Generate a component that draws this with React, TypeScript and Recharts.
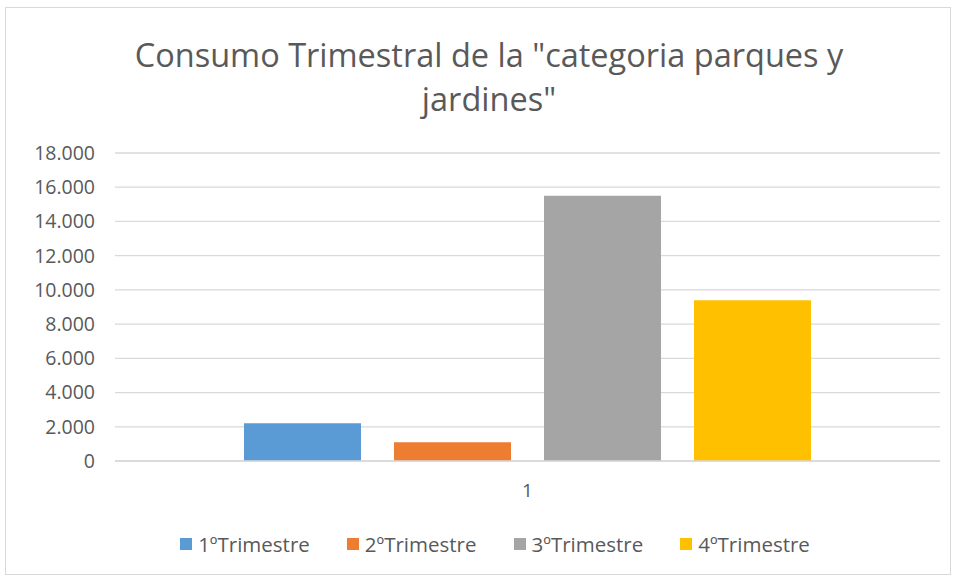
import React from 'react';
import { BarChart, Bar, XAxis, YAxis, CartesianGrid } from 'recharts';

const categories = ['1'];
const seriesNames = ['1ºTrimestre', '2ºTrimestre', '3ºTrimestre', '4ºTrimestre'];
const seriesValues = [2200, 1100, 15500, 9400];
const seriesColors = ['#5b9bd5', '#ed7d31', '#a5a5a5', '#ffc000'];
const yTicks = [0, 2000, 4000, 6000, 8000, 10000, 12000, 14000, 16000, 18000];

const FONT = '"Open Sans", "Noto Sans", sans-serif';
const TEXT = '#595959';

const rows = categories.map((c) => {
  const row: Record<string, string | number> = { name: c };
  seriesNames.forEach((s, i) => {
    row[s] = seriesValues[i];
  });
  return row;
});

const fmt = (v: number) => v.toLocaleString('de-DE');

function LegendRow() {
  return (
    <div
      style={{
        position: 'absolute',
        top: 530,
        left: 32,
        width: 926,
        display: 'flex',
        justifyContent: 'center',
        gap: 37,
        fontFamily: FONT,
        fontSize: 20.5,
        color: TEXT,
      }}
    >
      {seriesNames.map((s, i) => (
        <div key={s} style={{ display: 'flex', alignItems: 'center' }}>
          <span style={{ width: 12, height: 12, background: seriesColors[i], marginRight: 6 }} />
          <span>{s}</span>
        </div>
      ))}
    </div>
  );
}

export default function App() {
  return (
    <div style={{ position: 'absolute', left: 0, top: 0, width: 958, height: 577, background: '#fff' }}>
      <div
        style={{
          position: 'absolute',
          left: 5,
          top: 7,
          width: 946,
          height: 568,
          border: '1px solid #d9d9d9',
          boxSizing: 'border-box',
        }}
      />
      <div
        style={{
          position: 'absolute',
          top: 33,
          left: 20,
          width: 938,
          textAlign: 'center',
          fontFamily: FONT,
          fontSize: 32.5,
          lineHeight: '44px',
          color: TEXT,
        }}
      >
        Consumo Trimestral de la "categoria parques y
        <br />
        jardines"
      </div>
      <div style={{ position: 'absolute', left: 0, top: 0 }}>
        <BarChart
          width={958}
          height={577}
          data={rows}
          margin={{ top: 153, right: 18, bottom: 86, left: 0 }}
          barGap={33}
        >
          <CartesianGrid vertical={false} stroke="#d9d9d9" strokeWidth={1.3} />
          <XAxis
            dataKey="name"
            height={30}
            axisLine={{ stroke: '#d9d9d9', strokeWidth: 1.3 }}
            tickLine={false}
            tickSize={0}
            tickMargin={23}
            tick={{ fill: TEXT, fontSize: 19, fontFamily: FONT }}
          />
          <YAxis
            width={115}
            domain={[0, 18000]}
            ticks={yTicks}
            tickFormatter={fmt}
            axisLine={false}
            tickLine={false}
            tickSize={0}
            tickMargin={20}
            tick={{ fill: TEXT, fontSize: 19.5, fontFamily: FONT }}
          />
          {seriesNames.map((s, i) => (
            <Bar key={s} dataKey={s} fill={seriesColors[i]} barSize={117} isAnimationActive={false} />
          ))}
        </BarChart>
      </div>
      <LegendRow />
    </div>
  );
}
